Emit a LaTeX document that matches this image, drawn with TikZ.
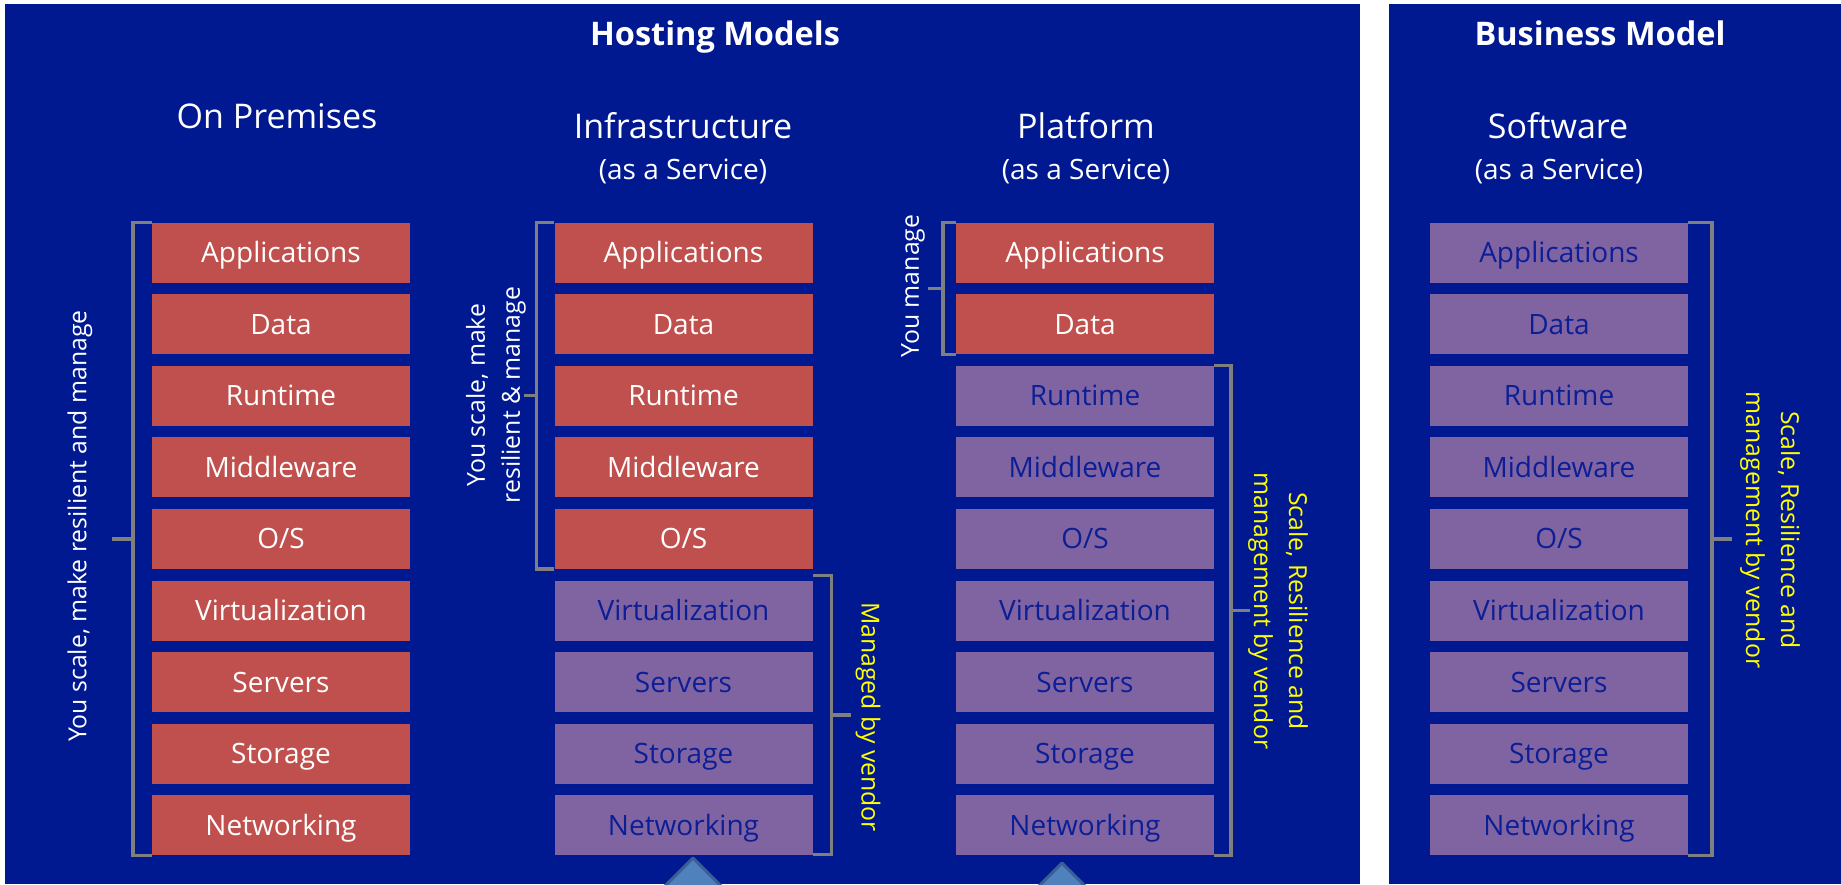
\documentclass[tikz,border=0pt]{standalone}
\usepackage{fontspec}
\setmainfont{Open Sans}
\usetikzlibrary{calc}
\definecolor{bgblue}{HTML}{001890}
\definecolor{boxred}{HTML}{C0504D}
\definecolor{boxpurple}{HTML}{8064A2}
\definecolor{darktext}{HTML}{0C1E96}
\definecolor{brkgray}{HTML}{7F7F7F}
\definecolor{triblue}{HTML}{4F81BD}
\definecolor{triedge}{HTML}{3A5F95}
\definecolor{vendoryellow}{HTML}{FFFF00}
\begin{document}
\begin{tikzpicture}[x=1pt,y=-1pt,
  layer/.style={minimum width=258pt, minimum height=60pt, inner sep=0pt,
    font=\fontsize{28}{34}\selectfont, text height=20pt, text depth=0pt},
  own/.style={layer, fill=boxred, text=white},
  vendor/.style={layer, fill=boxpurple, text=darktext},
  brk/.style={draw=brkgray, line width=3.5pt},
  lbl/.style={inner sep=0pt, font=\fontsize{24.8}{35}\selectfont},
  bigtitle/.style={anchor=base, text=white, inner sep=0pt, font=\bfseries\fontsize{32.5}{38}\selectfont},
  coltitle/.style={anchor=base, text=white, inner sep=0pt, font=\fontsize{34}{40}\selectfont},
  subtitle/.style={anchor=base, text=white, inner sep=0pt, font=\fontsize{28}{34}\selectfont},
  tri/.style={fill=triblue, draw=triedge, line width=3pt, line join=round}
]
\useasboundingbox (0,0) rectangle (1841,884);
\fill[white] (0,0) rectangle (1841,884);
\fill[bgblue] (5,4) rectangle (1360,884);
\fill[bgblue] (1389,4) rectangle (1841,884);

% titles
\node[bigtitle] (hosting) at (715,45) {Hosting Models};
\node[bigtitle] (business) at (1600,45) {Business Model};
\node[coltitle] (onprem) at (277,128) {On Premises};
\node[coltitle] (iaas) at (683,138) {Infrastructure};
\node[subtitle] (iaassub) at (683,179) {(as a Service)};
\node[coltitle] (paas) at (1086,138) {Platform};
\node[subtitle] (paassub) at (1086,179) {(as a Service)};
\node[coltitle] (saas) at (1558,138) {Software};
\node[subtitle] (saassub) at (1559,179) {(as a Service)};

% stacks
\foreach \lbl [count=\i from 0] in {Applications,Data,Runtime,Middleware,O/S,Virtualization,Servers,Storage,Networking} {
  \pgfmathsetmacro\yy{252.5+71.6*\i}
  \node[own] (a\i) at (281,\yy) {\lbl};
  \ifnum\i<5
    \node[own] (b\i) at (683.5,\yy) {\lbl};
  \else
    \node[vendor] (b\i) at (683.5,\yy) {\lbl};
  \fi
  \ifnum\i<2
    \node[own] (c\i) at (1085,\yy) {\lbl};
  \else
    \node[vendor] (c\i) at (1085,\yy) {\lbl};
  \fi
  \node[vendor] (d\i) at (1559,\yy) {\lbl};
}

% brackets
\draw[brk] (a0.north west) -- ++(-19,0) |- (a8.south west);
\draw[brk] ($(a0.north west)!0.5!(a8.south west)+(-19,0)$) -- ++(-21,0);

\draw[brk] (b0.north west) -- ++(-18,0) |- (b4.south west);
\draw[brk] ($(b0.north west)!0.5!(b4.south west)+(-18,0)$) -- ++(-12,0);

\draw[brk] ([yshift=5pt]b5.north east) -- ++(19,0) |- ([yshift=1pt]b8.south east);
\draw[brk] ($([yshift=5pt]b5.north east)!0.5!([yshift=1pt]b8.south east)+(19,0)$) -- ++(19,0);

\draw[brk] (c0.north west) -- ++(-13,0) |- (c1.south west);
\draw[brk] ($(c0.north west)!0.5!(c1.south west)+(-13,0)$) -- ++(-15,0);

\draw[brk] (c2.north east) -- ++(17,0) |- (c8.south east);
\draw[brk] ($(c2.north east)!0.5!(c8.south east)+(17,0)$) -- ++(19,0);

\draw[brk] (d0.north east) -- ++(24,0) |- (d8.south east);
\draw[brk] ($(d0.north east)!0.5!(d8.south east)+(24,0)$) -- ++(20,0);

% bracket labels
\node[lbl, text=white, rotate=90] (l1) at (80,526) {You scale, make resilient and manage};
\node[lbl, text=white, rotate=90, align=center] (l2) at (496,395) {You scale, make\\resilient \& manage};
\node[lbl, text=white, rotate=90] (l3) at (913,286) {You manage};
\node[lbl, text=vendoryellow, rotate=-90] (l4) at (868,717) {Managed by vendor};
\node[lbl, text=vendoryellow, rotate=-90, align=center] (l5) at (1278,611) {Scale, Resilience and\\management by vendor};
\node[lbl, text=vendoryellow, rotate=-90, align=center] (l6) at (1770,530) {Scale, Resilience and\\management by vendor};

% triangles at bottom
\begin{scope}
\clip (0,0) rectangle (1841,884);
\draw[tri] (693,858) -- (733,898) -- (653,898) -- cycle;
\draw[tri] (1062,863) -- (1102,903) -- (1022,903) -- cycle;
\end{scope}
\end{tikzpicture}
\end{document}
